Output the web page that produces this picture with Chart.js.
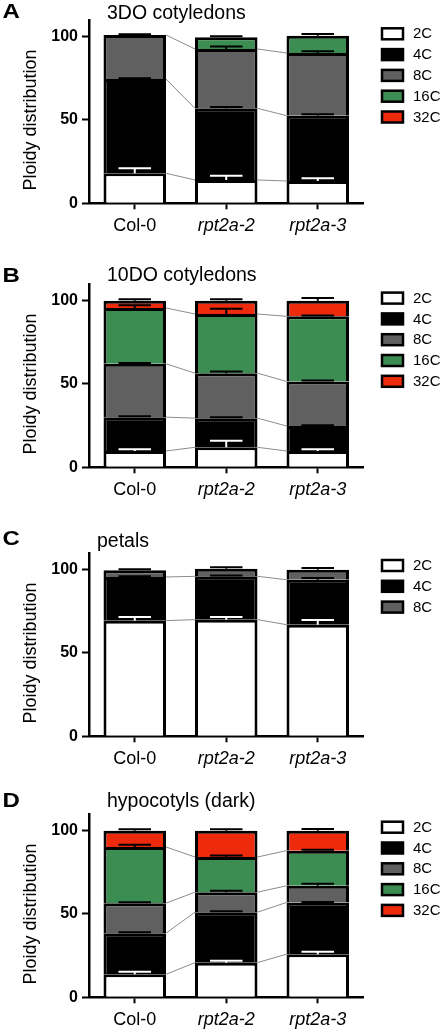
<!DOCTYPE html>
<html lang="en">
<head>
<meta charset="UTF-8">
<title>Ploidy distribution</title>
<script src="https://cdn.jsdelivr.net/npm/chart.js"></script>
<style>
  html, body { margin: 0; padding: 0; background: #fff; overflow: hidden; }
  #figure { position: relative; width: 442px; height: 1034px; overflow: hidden; }
  .panel { position: absolute; left: 0; width: 442px; height: 268px; }
</style>
</head>
<body>
<div id="figure">
  <div class="panel" style="top:-20px"><canvas id="panelA" width="442" height="268"></canvas></div>
  <div class="panel" style="top:244px"><canvas id="panelB" width="442" height="268"></canvas></div>
  <div class="panel" style="top:513px"><canvas id="panelC" width="442" height="268"></canvas></div>
  <div class="panel" style="top:774px"><canvas id="panelD" width="442" height="268"></canvas></div>
</div>
<script>
const genotypes = ['Col-0', 'rpt2a-2', 'rpt2a-3'];
const ploidyLevels = ['2C', '4C', '8C', '16C', '32C'];
const ploidyColors = ['#ffffff', '#000000', '#606060', '#3b8d52', '#ee2a0c'];
const errorColors = ['#ffffff', '#000000', '#000000', '#000000', '#000000'];
const yTicks = [0, 50, 100];

// rows = ploidy level (2C, 4C, 8C, 16C, 32C), columns = genotype
const cot3Means = [
  [18.0, 14.0, 13.4],
  [56.6, 43.0, 39.2],
  [26.4, 35.6, 37.6],
  [0, 7.0, 10.4],
  [0, 0, 0]
];
const cot3Errors = [
  [3.0, 2.6, 1.6],
  [0.5, 0.8, 0.8],
  [0.5, 1.5, 1.0],
  [0, 0.6, 1.0],
  [0, 0, 0]
];

const cot10Means = [
  [9.8, 12.0, 9.8],
  [20.3, 17.5, 15.0],
  [32.0, 27.0, 26.7],
  [33.5, 35.5, 39.1],
  [4.4, 8.0, 9.4]
];
const cot10Errors = [
  [1.0, 4.0, 1.0],
  [0.5, 0.5, 0.5],
  [0.5, 1.0, 0.6],
  [1.6, 3.2, 0.5],
  [0.8, 0.8, 1.6]
];

const petalMeans = [
  [69.4, 70.0, 67.0],
  [26.2, 26.0, 27.0],
  [4.0, 4.6, 6.0]
];
const petalErrors = [
  [2.2, 1.6, 2.8],
  [0.5, 0.5, 1.0],
  [0.6, 0.8, 1.0]
];

const hypoMeans = [
  [13.8, 20.8, 25.9],
  [24.7, 30.3, 31.0],
  [18.0, 12.0, 10.0],
  [33.7, 21.1, 21.1],
  [9.8, 15.8, 12.0]
];
const hypoErrors = [
  [1.6, 1.2, 1.5],
  [0.5, 0.5, 0.3],
  [0.5, 0.8, 1.2],
  [1.4, 0.9, 0.5],
  [0.8, 0.8, 1.0]
];

const FONT = '"Liberation Sans", Arial, Helvetica, sans-serif';
Chart.defaults.font.family = FONT;
Chart.defaults.color = '#000';

// thin grey lines joining the same boundary between neighbouring bars
const linkLines = {
  id: 'linkLines',
  beforeDatasetsDraw(chart) {
    const ctx = chart.ctx;
    const n = chart.options.plugins.decor.linked;
    ctx.save();
    ctx.strokeStyle = '#8c8c8c';
    ctx.lineWidth = 1;
    for (let i = 0; i < n; i++) {
      const bars = chart.getDatasetMeta(i).data;
      for (let j = 0; j < bars.length - 1; j++) {
        const a = bars[j], b = bars[j + 1];
        ctx.beginPath();
        ctx.moveTo(a.x + a.width / 2, a.y);
        ctx.lineTo(b.x - b.width / 2, b.y);
        ctx.stroke();
      }
    }
    ctx.restore();
  }
};

// upward error bars on each stacked segment
const errorBars = {
  id: 'errorBars',
  afterDatasetsDraw(chart) {
    const ctx = chart.ctx;
    const yScale = chart.scales.y;
    const sets = chart.data.datasets;
    ctx.save();
    ctx.lineWidth = 2;
    sets.forEach((ds, i) => {
      const bars = chart.getDatasetMeta(i).data;
      bars.forEach((bar, j) => {
        const err = ds.errors[j];
        if (!err) return;
        let cum = 0;
        for (let k = 0; k <= i; k++) cum += sets[k].data[j];
        const yTop = yScale.getPixelForValue(cum + err);
        const half = bar.width * 0.26;
        ctx.strokeStyle = ds.errorColor;
        ctx.beginPath();
        ctx.moveTo(bar.x, bar.y);
        ctx.lineTo(bar.x, yTop);
        ctx.moveTo(bar.x - half, yTop);
        ctx.lineTo(bar.x + half, yTop);
        ctx.stroke();
      });
    });
    ctx.restore();
  }
};

// panel letter, title, y axis title and legend
const decor = {
  id: 'decor',
  afterDraw(chart, args, opts) {
    const ctx = chart.ctx;
    const yScale = chart.scales.y;
    ctx.save();
    ctx.fillStyle = '#000';
    ctx.textBaseline = 'alphabetic';
    ctx.textAlign = 'left';

    ctx.save();
    ctx.translate(2.5, opts.letterY);
    ctx.scale(1.2, 1);
    ctx.font = 'bold 20px ' + FONT;
    ctx.fillText(opts.letter, 0, 0);
    ctx.restore();

    ctx.font = opts.titleSize + 'px ' + FONT;
    ctx.fillText(opts.title, opts.titleX, opts.titleY);

    // y axis title centred on the 0-100 range
    ctx.save();
    ctx.translate(31.5, yScale.getPixelForValue(50));
    ctx.rotate(-Math.PI / 2);
    ctx.textAlign = 'center';
    ctx.textBaseline = 'middle';
    ctx.font = '18px ' + FONT;
    ctx.fillText('Ploidy distribution', 0, 0);
    ctx.restore();

    // legend
    ctx.font = '15px ' + FONT;
    ctx.textBaseline = 'middle';
    chart.data.datasets.forEach((ds, i) => {
      const top = opts.legendTop + i * 20.8;
      ctx.fillStyle = ds.backgroundColor;
      ctx.fillRect(382, top, 21, 11);
      ctx.strokeStyle = '#000';
      ctx.lineWidth = 2.5;
      ctx.strokeRect(382, top, 21, 11);
      ctx.fillStyle = '#000';
      ctx.fillText(ds.label, 413, top + 6);
    });
    ctx.restore();
  }
};

function makePanel(id, means, errors, decorOpts) {
  const datasets = means.map((row, i) => ({
    label: ploidyLevels[i],
    data: row,
    errors: errors[i],
    errorColor: errorColors[i],
    backgroundColor: ploidyColors[i],
    borderColor: '#000',
    borderWidth: 3
  }));
  return new Chart(document.getElementById(id), {
    type: 'bar',
    data: { labels: genotypes, datasets: datasets },
    options: {
      responsive: false,
      animation: false,
      layout: { padding: { top: 40, left: 0, right: 78.5, bottom: 0 } },
      datasets: { bar: { categoryPercentage: 0.683, barPercentage: 1 } },
      plugins: {
        legend: { display: false },
        tooltip: { enabled: false },
        decor: decorOpts
      },
      scales: {
        x: {
          stacked: true,
          afterFit: s => { s.height = 44.7; },
          grid: { offset: false, drawOnChartArea: false, tickLength: 6, tickWidth: 2, tickColor: '#000', color: '#000' },
          border: { color: '#000', width: 2.5 },
          ticks: {
            padding: 6,
            maxRotation: 0,
            color: '#000',
            font: c => ({ size: 18, style: c.index > 0 ? 'italic' : 'normal' })
          }
        },
        y: {
          stacked: true,
          min: 0,
          max: 110,
          afterFit: s => { s.width = 89; },
          afterBuildTicks: s => { s.ticks = yTicks.map(v => ({ value: v })); },
          grid: { drawOnChartArea: false, tickLength: 7, tickWidth: 2, tickColor: '#000', color: '#000' },
          border: { color: '#000', width: 2.5 },
          ticks: { padding: 4, color: '#000', font: { size: 16, weight: 'bold' } }
        }
      }
    },
    plugins: [linkLines, errorBars, decor]
  });
}

makePanel('panelA', cot3Means, cot3Errors,
  { letter: 'A', letterY: 38.3, title: '3DO cotyledons', titleX: 107, titleY: 39.3, titleSize: 19.5, legendTop: 48.3, linked: 3 });
makePanel('panelB', cot10Means, cot10Errors,
  { letter: 'B', letterY: 37.6, title: '10DO cotyledons', titleX: 107, titleY: 37.3, titleSize: 19.5, legendTop: 48.6, linked: 4 });
makePanel('panelC', petalMeans, petalErrors,
  { letter: 'C', letterY: 32, title: 'petals', titleX: 97, titleY: 33.5, titleSize: 19.5, legendTop: 47, linked: 2 });
makePanel('panelD', hypoMeans, hypoErrors,
  { letter: 'D', letterY: 33, title: 'hypocotyls (dark)', titleX: 107, titleY: 32.7, titleSize: 19.5, legendTop: 47.7, linked: 4 });
</script>
</body>
</html>
